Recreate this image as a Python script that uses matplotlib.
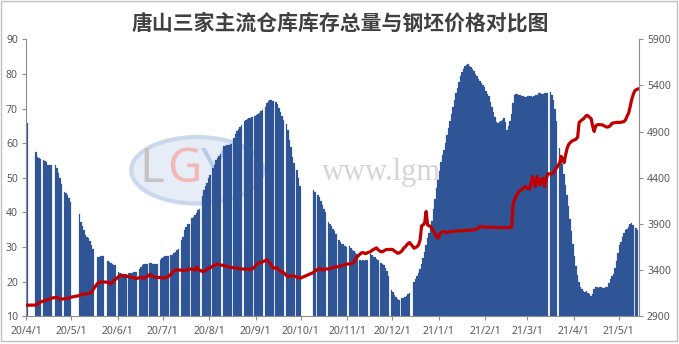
import numpy as np
import pandas as pd
import matplotlib
matplotlib.use("Agg")
import matplotlib.pyplot as plt
import matplotlib.dates as mdates
from matplotlib.patches import Ellipse, Rectangle

TITLE = "唐山三家主流仓库库存总量与钢坯价格对比图"
START = "2020-04-01"
N = None

# warehouse inventory (left axis), one value per calendar day, None = no report
INV_2020_04 = [65.9, N, N, N, N, N, 57.5, 56.0, 55.6, 55.5, N, 55.1, 54.8, 54.7, 53.7,
               53.7, 53.6, N, N, 53.7, 52.9, 51.5, 50.0, 48.2, N, 45.9, 45.5, 44.9, 44.2, 42.9]
INV_2020_05 = [N, N, N, N, N, 39.6, 37.3, 36.0, 34.8, 33.6, 33.0, 32.6, 31.7, 30.5, 29.3,
               N, N, 27.2, 27.2, 27.3, 27.5, 27.5, N, N, 26.0, 25.8, 25.5, 25.2, 24.9, 24.7, N]
INV_2020_06 = [22.8, 22.4, 22.3, 22.2, 22.2, 22.3, N, 22.5, 22.5, 22.6, 22.7, 22.8, 22.8, N,
               23.6, 24.3, 24.9, 25.0, 25.2, 25.2, N, 25.4, 25.3, 25.2, 25.1, 25.0, 25.0, N,
               26.3, 26.9]
INV_2020_07 = [27.2, 27.4, 27.4, 27.4, N, 27.6, 27.8, 28.4, 28.6, 29.1, 29.4, N, 32.0, 33.0,
               35.0, 35.9, 36.6, 36.6, N, 38.3, 38.8, 39.4, 39.8, 40.7, 40.9, N, 44.6, 46.5,
               47.7, 48.6, 49.9]
INV_2020_08 = [50.7, N, 52.8, 53.7, 55.2, 55.7, 56.3, 56.9, N, 59.3, 59.3, 59.4, 59.5, 59.6,
               59.8, N, 61.5, 62.6, 63.4, 64.1, 64.7, 65.2, N, 66.3, 66.8, 67.0, 67.2, 67.4,
               67.7, N, 67.8]
INV_2020_09 = [68.0, 68.3, 68.8, 69.3, 69.7, N, 70.5, 71.5, 72.2, 72.5, 72.5, 72.2, N, 71.9,
               71.4, 70.3, 69.0, 67.8, 66.8, N, 65.5, 63.8, 61.0, 59.0, 56.0, 54.2, N, 52.3,
               50.0, 47.5]
INV_2020_10 = [N, N, N, N, N, N, N, N, 46.4, 46.0, N, 45.0, 44.5, 43.2, 42.1, 41.0, 40.0, N,
               37.3, 36.8, 36.0, 35.3, 34.5, 33.9, N, 32.0, 31.5, 31.0, 30.8, 30.3, 30.0]
INV_2020_11 = [N, 30.2, 29.6, 29.2, 28.8, 28.3, 27.9, N, 26.2, 26.0, 26.2, 26.0, 26.2, 26.2, N,
               28.1, 27.6, 27.2, 27.0, 26.5, 26.2, N, 25.4, 25.2, 24.8, 24.0, 23.0, 21.5, N, 17.5]
INV_2020_12 = [17.0, 16.2, 15.6, 14.9, 14.6, N, 15.2, 15.4, 15.7, 16.0, 16.4, 16.8, N, N,
               20.0, 20.8, 21.5, 22.5, 23.6, 25.0, 26.8, 28.6, 30.5, 32.5, 34.0, 35.5, 37.5,
               41.0, 44.0, 47.0, 49.5]
INV_2021_01 = [52.0, 54.5, 56.5, 58.1, 60.0, 62.5, 64.5, 66.5, 68.5, 70.5, 72.5, 74.5, 76.0,
               77.8, 79.5, 80.5, 81.5, 82.2, 82.7, 82.8, 82.4, 82.0, 81.5, 80.8, 80.0, 79.4,
               78.6, 78.0, 77.4, 76.8, 76.3]
INV_2021_02 = [75.0, 74.3, 73.5, 72.0, 70.5, 69.0, 67.5, 66.2, 65.8, 66.0, 66.3, 66.8, 67.3,
               66.0, 63.9, 65.0, 66.5, 68.5, 71.5, 73.8, 74.3, 74.2, 74.0, 73.8, 73.5, 73.6,
               73.3, 73.4]
INV_2021_03 = [73.6, 73.7, 73.5, 73.4, 73.6, 74.0, 74.0, 74.5, 74.6, 74.3, 74.3, 74.4, 74.5,
               74.5, N, 74.7, 74.0, 72.6, 70.0, 66.5, N, 58.5, 56.5, 54.0, 51.0, 48.0, 45.0,
               42.0, 38.0, 34.5, 31.0]
INV_2021_04 = [27.5, 24.5, 22.0, 20.0, 18.5, 17.8, 17.3, 17.0, 17.2, 16.8, 16.3, 16.0, 16.5,
               18.0, 18.4, 18.5, 18.3, 18.6, 18.6, 18.3, 18.1, 18.4, 18.6, 19.5, 20.8, 21.5,
               22.2, 24.0, 26.0, 28.3]
INV_2021_05 = [30.5, 31.5, 33.0, 34.0, 34.8, 35.3, 35.9, 36.6, 36.9, 36.5, N, 35.4, 35.0]

# billet price (right axis), same calendar days
PRICE_2020_04 = [3020, N, N, N, N, N, 3022, 3030, 3045, 3055, N, 3065, 3072, 3078, 3082,
                 3086, 3095, N, N, 3105, 3106, 3095, 3084, 3086, N, 3090, 3093, 3095, 3100, 3106]
PRICE_2020_05 = [N, N, N, N, N, 3125, 3135, 3140, 3142, 3142, 3143, 3145, 3150, 3156, 3190,
                 N, N, 3257, 3265, 3272, 3272, 3272, N, N, 3268, 3262, 3250, 3265, 3290, 3300, N]
PRICE_2020_06 = [3330, 3340, 3344, 3340, 3337, 3333, N, 3330, 3326, 3322, 3319, 3312, 3308, N,
                 3320, 3322, 3316, 3312, 3322, 3330, N, 3355, 3340, 3330, 3325, 3322, 3322, N,
                 3319, 3317]
PRICE_2020_07 = [3315, 3315, 3320, 3330, N, 3355, 3375, 3395, 3400, 3402, 3402, N, 3400, 3396,
                 3395, 3400, 3402, 3410, N, 3413, 3405, 3402, 3438, 3410, 3400, N, 3384, 3390,
                 3395, 3410, 3420]
PRICE_2020_08 = [3425, N, 3445, 3452, 3460, 3467, 3462, 3456, N, 3450, 3445, 3440, 3435, 3432,
                 3430, N, 3425, 3422, 3420, 3418, 3415, 3413, N, 3411, 3410, 3409, 3409, 3409,
                 3412, N, 3440]
PRICE_2020_09 = [3465, 3474, 3478, 3481, 3490, N, 3505, 3510, 3490, 3474, 3450, 3420, N, 3427,
                 3420, 3400, 3384, 3380, 3373, N, 3340, 3330, 3335, 3337, 3337, 3335, N, 3325,
                 3318, 3312]
PRICE_2020_10 = [N, N, N, N, N, N, N, N, 3375, 3391, N, 3410, 3420, 3410, 3402, 3405, 3413, N,
                 3413, 3415, 3420, 3428, 3432, 3435, N, 3440, 3445, 3450, 3455, 3460, 3465]
PRICE_2020_11 = [N, 3468, 3470, 3475, 3490, 3520, 3543, N, 3575, 3587, 3590, 3582, 3580, 3590, N,
                 3600, 3615, 3625, 3634, 3640, 3620, N, 3598, 3600, 3610, 3620, 3625, 3623, N, 3625]
PRICE_2020_12 = [3620, 3605, 3595, 3583, 3585, N, 3610, 3637, 3650, 3670, 3690, 3699, N, N,
                 3637, 3645, 3655, 3675, 3728, 3880, 3890, 3908, 4035, 3890, 3880, 3872, 3850,
                 3818, 3790, 3760, 3746]
PRICE_2021_01 = [3790, 3807, 3815, 3818, 3810, 3805, 3812, 3818, 3820, 3818, 3822, 3825, 3825,
                 3826, 3825, 3827, 3828, 3829, 3829, 3830, 3832, 3834, 3836, 3836, 3840, 3850,
                 3862, 3872, 3870, 3868, 3866]
PRICE_2021_02 = [3866, 3866, 3865, 3864, 3864, 3863, 3862, 3862, 3862, 3862, 3862, 3862, 3862,
                 3862, 3862, 3862, 3862, 3862, 4125, 4161, 4200, 4230, 4252, 4265, 4277, 4290,
                 4306, 4295]
PRICE_2021_03 = [4280, 4277, 4350, 4414, 4330, 4306, 4414, 4380, 4324, 4380, 4396, 4306, 4380,
                 4443, N, 4443, 4443, 4460, 4487, 4510, N, 4560, 4631, 4600, 4565, 4650, 4720,
                 4760, 4780, 4795, 4805]
PRICE_2021_04 = [4810, 4820, 4840, 5000, 5015, 5029, 5040, 5060, 5076, 5070, 5055, 5040, 4960,
                 4902, 4960, 4974, 4976, 4975, 4974, 4970, 4960, 4950, 4950, 4955, 4970, 4990,
                 4995, 4998, 5000, 5000]
PRICE_2021_05 = [5000, 5002, 5005, 5011, 5030, 5070, 5101, 5170, 5246, 5300, 5340, 5354, 5361]

INV_MONTHS = [INV_2020_04, INV_2020_05, INV_2020_06, INV_2020_07, INV_2020_08, INV_2020_09,
              INV_2020_10, INV_2020_11, INV_2020_12, INV_2021_01, INV_2021_02, INV_2021_03,
              INV_2021_04, INV_2021_05]
PRICE_MONTHS = [PRICE_2020_04, PRICE_2020_05, PRICE_2020_06, PRICE_2020_07, PRICE_2020_08,
                PRICE_2020_09, PRICE_2020_10, PRICE_2020_11, PRICE_2020_12, PRICE_2021_01,
                PRICE_2021_02, PRICE_2021_03, PRICE_2021_04, PRICE_2021_05]

LEFT_TICKS = list(range(10, 91, 10))
RIGHT_TICKS = list(range(2900, 5901, 500))

BAR_COLOR = "#2F5597"
LINE_COLOR = "#C00000"
AXIS_GRAY = "#8C8C8C"
LABEL_GRAY = "#595959"


def to_array(months):
    flat = [v for m in months for v in m]
    return np.array([np.nan if v is None else v for v in flat], dtype=float)


inventory = to_array(INV_MONTHS)
price = to_array(PRICE_MONTHS)
days = pd.date_range(START, periods=len(inventory), freq="D")
xnum = mdates.date2num(days.to_pydatetime())

plt.rcParams["font.family"] = ["Noto Sans", "DejaVu Sans"]

W, H = 679, 344
fig = plt.figure(figsize=(W / 100, H / 100), dpi=100)
ax_l, ax_r, ax_t, ax_b = 26.3, 638.7, 39.3, 316.3
ax = fig.add_axes([ax_l / W, 1 - ax_b / H, (ax_r - ax_l) / W, (ax_b - ax_t) / H])

# faint watermark behind the bars
ax.add_patch(Ellipse((0.279, 0.527), 0.215, 0.24, transform=ax.transAxes,
                     facecolor="#E6EDF6", edgecolor="#C9D8EC", lw=3, zorder=0))
for ch, px, col in [("L", 152, "#C4C4C4"), ("G", 184, "#F2B8B8"), ("Y", 214, "#B8CBE8")]:
    ax.text((px - ax_l) / (ax_r - ax_l), 0.53, ch, transform=ax.transAxes, ha="center",
            va="center", fontsize=34, fontweight="bold", color=col, zorder=0.5)
ax.text((322 - ax_l) / (ax_r - ax_l), 0.52, "www.lgmi.com", transform=ax.transAxes,
        ha="left", va="center", fontsize=22, color="#D4D4D4", family="Liberation Serif",
        zorder=0.5)

ok = ~np.isnan(inventory)
ax.bar(xnum[ok], inventory[ok], width=1.0, align="edge", color=BAR_COLOR,
       edgecolor=BAR_COLOR, linewidth=0.15, zorder=2)

ax.set_ylim(10, 90)
ax.set_yticks(LEFT_TICKS)
x0 = mdates.date2num(pd.Timestamp(START).to_pydatetime())
ax.set_xlim(x0, x0 + 408.2)
month_ticks = pd.date_range(START, "2021-05-01", freq="MS")
ax.set_xticks(mdates.date2num(month_ticks.to_pydatetime()))
ax.set_xticklabels([f"{d.year % 100}/{d.month}/{d.day}" for d in month_ticks])

ax2 = ax.twinx()
okp = ~np.isnan(price)
ax2.plot(xnum[okp] + 0.5, price[okp], color=LINE_COLOR, lw=2.3, solid_joinstyle="round",
         zorder=3)
ax2.set_ylim(2900, 5900)
ax2.set_yticks(RIGHT_TICKS)

for a in (ax, ax2):
    a.tick_params(length=3, width=0.8, color=AXIS_GRAY, labelcolor=LABEL_GRAY,
                  labelsize=7.5, pad=3)
    a.spines["top"].set_visible(False)
    for side in ("left", "right", "bottom"):
        a.spines[side].set_color(AXIS_GRAY)
        a.spines[side].set_linewidth(0.8)
ax.spines["right"].set_visible(False)
ax2.spines["left"].set_visible(False)
ax2.spines["bottom"].set_visible(False)
ax.tick_params(axis="x", pad=4)

fig.text(340 / W, 1 - 23 / H, TITLE, ha="center", va="center", fontsize=15,
         fontweight="bold", color="#404040", family=["Noto Sans CJK SC", "DejaVu Sans"])

fig.add_artist(Rectangle((1 / W, 3 / H), 676 / W, 340 / H, transform=fig.transFigure,
                         fill=False, edgecolor="#C0C0C0", lw=1))

fig.savefig("out.png", dpi=100)
